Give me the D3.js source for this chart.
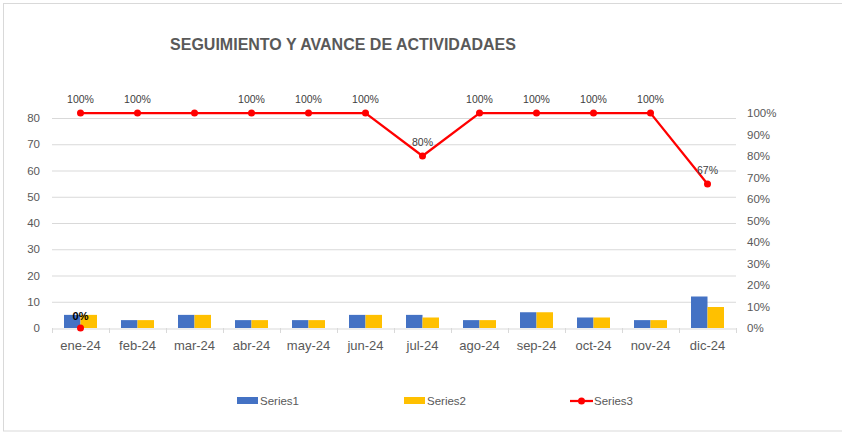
<!DOCTYPE html>
<html>
<head>
<meta charset="utf-8">
<script src="https://cdn.jsdelivr.net/npm/d3@7"></script>
<style>
  body { margin: 0; background: #fff; }
  text { font-family: "Liberation Sans", Arial, sans-serif; }
</style>
</head>
<body>
<div id="chart"></div>
<script>
// chart data
const months = ["ene-24", "feb-24", "mar-24", "abr-24", "may-24", "jun-24", "jul-24", "ago-24", "sep-24", "oct-24", "nov-24", "dic-24"];
const series1 = [5, 3, 5, 3, 3, 5, 5, 3, 6, 4, 3, 12];
const series2 = [5, 3, 5, 3, 3, 5, 4, 3, 6, 4, 3, 8];
const series3 = [1, 1, 1, 1, 1, 1, 0.8, 1, 1, 1, 1, 0.67];
// lone point drawn at ene-24 with a 0% label
const extraPoint = [{ month: "ene-24", value: 0 }];
const leftTicks = [0, 10, 20, 30, 40, 50, 60, 70, 80];
const rightTicks = [0, 0.1, 0.2, 0.3, 0.4, 0.5, 0.6, 0.7, 0.8, 0.9, 1];

const W = 842, H = 433;
const left = 52, right = 736, bottom = 328;
const pct = d3.format(".0%");

const svg = d3.select("#chart").append("svg")
    .attr("width", W).attr("height", H);

// chart border
svg.append("rect")
    .attr("x", 3.5).attr("y", 3.5)
    .attr("width", 860).attr("height", 427.5)
    .attr("fill", "none").attr("stroke", "#d9d9d9");

// title
svg.append("text")
    .attr("x", 343).attr("y", 50)
    .attr("text-anchor", "middle")
    .style("font-size", "16px").style("font-weight", "bold")
    .attr("fill", "#595959")
    .text("SEGUIMIENTO Y AVANCE DE ACTIVIDADAES");

const x = d3.scaleBand().domain(months).range([left, right]);
const xSub = d3.scaleBand().domain(["s1", "s2"]).range([0, 33]);
const yL = d3.scaleLinear().domain([0, 80]).range([bottom, 118]);
const yR = d3.scaleLinear().domain([0, 1]).range([bottom, 113]);

// gridlines
svg.append("g").selectAll("line")
  .data(leftTicks.slice(1))
  .enter().append("line")
    .attr("x1", left).attr("x2", right)
    .attr("y1", d => yL(d) + 0.5).attr("y2", d => yL(d) + 0.5)
    .attr("stroke", "#d9d9d9");

// left axis labels
svg.append("g").selectAll("text")
  .data(leftTicks)
  .enter().append("text")
    .attr("x", 40).attr("y", d => yL(d) + 4)
    .attr("text-anchor", "end")
    .style("font-size", "11.5px").attr("fill", "#595959")
    .text(d => d);

// right axis labels
svg.append("g").selectAll("text")
  .data(rightTicks)
  .enter().append("text")
    .attr("x", 747).attr("y", d => yR(d) + 4)
    .style("font-size", "11.5px").attr("fill", "#595959")
    .text(d => pct(d));

// bars
const barOff = (x.bandwidth() - 33) / 2;
svg.append("g").selectAll("rect")
  .data(series1)
  .enter().append("rect")
    .attr("x", (d, i) => x(months[i]) + barOff + xSub("s1"))
    .attr("y", d => yL(d))
    .attr("width", xSub.bandwidth())
    .attr("height", d => bottom - yL(d))
    .attr("fill", "#4472c4");

svg.append("g").selectAll("rect")
  .data(series2)
  .enter().append("rect")
    .attr("x", (d, i) => x(months[i]) + barOff + xSub("s2"))
    .attr("y", d => yL(d))
    .attr("width", xSub.bandwidth())
    .attr("height", d => bottom - yL(d))
    .attr("fill", "#ffc000");

// x axis
const xAxis = svg.append("g")
    .attr("transform", `translate(0,${bottom + 0.5})`)
    .call(d3.axisBottom(x).tickSize(0).tickPadding(12));
xAxis.select(".domain").attr("stroke", "#d9d9d9");
xAxis.selectAll("text")
    .style("font-size", "13px").style("font-family", "'Liberation Sans', Arial, sans-serif")
    .attr("fill", "#595959");
svg.append("g").selectAll("line")
  .data(months.concat(["end"]))
  .enter().append("line")
    .attr("x1", (d, i) => left + i * x.step() + 0.5)
    .attr("x2", (d, i) => left + i * x.step() + 0.5)
    .attr("y1", bottom).attr("y2", bottom + 5)
    .attr("stroke", "#d9d9d9");

// line series
const cx = m => x(m) + x.bandwidth() / 2;
const line = d3.line()
    .x((d, i) => cx(months[i]))
    .y(d => yR(d));
svg.append("path")
    .datum(series3)
    .attr("d", line)
    .attr("fill", "none")
    .attr("stroke", "#ff0000")
    .attr("stroke-width", 2.25);
svg.append("g").selectAll("circle")
  .data(series3)
  .enter().append("circle")
    .attr("cx", (d, i) => cx(months[i]))
    .attr("cy", d => yR(d))
    .attr("r", 3.5)
    .attr("fill", "#ff0000");

// line labels (mar-24 has none)
svg.append("g").selectAll("text")
  .data(series3.map((v, i) => ({ v, i })).filter(o => o.i !== 2))
  .enter().append("text")
    .attr("x", o => cx(months[o.i]))
    .attr("y", o => yR(o.v) - 10)
    .attr("text-anchor", "middle")
    .style("font-size", "10.5px")
    .attr("fill", "#404040")
    .text(o => pct(o.v));

// lone 0% point
svg.append("g").selectAll("circle")
  .data(extraPoint)
  .enter().append("circle")
    .attr("cx", d => cx(d.month))
    .attr("cy", d => yR(d.value))
    .attr("r", 3.5)
    .attr("fill", "#ff0000");
svg.append("g").selectAll("text")
  .data(extraPoint)
  .enter().append("text")
    .attr("x", d => cx(d.month))
    .attr("y", d => yR(d.value) - 8)
    .attr("text-anchor", "middle")
    .style("font-size", "11px").style("font-weight", "bold")
    .attr("fill", "#000")
    .text(d => pct(d.value));

// legend
const lg = svg.append("g").attr("transform", "translate(0,401)");
lg.append("rect").attr("x", 237).attr("y", -4).attr("width", 21).attr("height", 7).attr("fill", "#4472c4");
lg.append("text").attr("x", 260).attr("y", 4).style("font-size", "11.5px").attr("fill", "#595959").text("Series1");
lg.append("rect").attr("x", 404).attr("y", -4).attr("width", 21).attr("height", 7).attr("fill", "#ffc000");
lg.append("text").attr("x", 427).attr("y", 4).style("font-size", "11.5px").attr("fill", "#595959").text("Series2");
lg.append("line").attr("x1", 570).attr("x2", 593).attr("y1", 0).attr("y2", 0).attr("stroke", "#ff0000").attr("stroke-width", 2.25);
lg.append("circle").attr("cx", 581.5).attr("cy", 0).attr("r", 3.5).attr("fill", "#ff0000");
lg.append("text").attr("x", 594).attr("y", 4).style("font-size", "11.5px").attr("fill", "#595959").text("Series3");
</script>
</body>
</html>
